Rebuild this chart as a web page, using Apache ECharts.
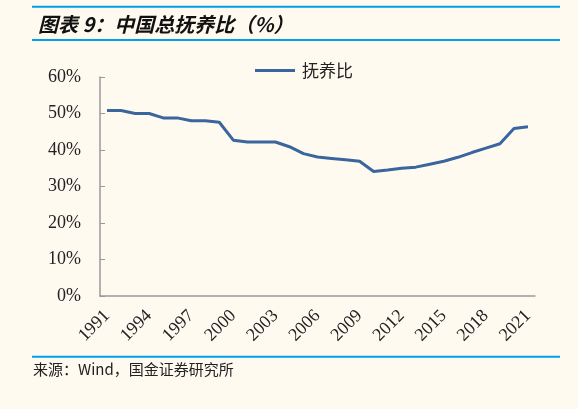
<!DOCTYPE html>
<html>
<head>
<meta charset="utf-8">
<script src="https://cdn.jsdelivr.net/npm/echarts@6/dist/echarts.min.js"></script>
<style>
  html, body { margin: 0; padding: 0; background: #FFFAF0; }
  #chart { width: 578px; height: 409px; }
</style>
</head>
<body>
<div id="chart"></div>
<script>
// 年份
var years = ['1991','1992','1993','1994','1995','1996','1997','1998','1999','2000',
  '2001','2002','2003','2004','2005','2006','2007','2008','2009','2010',
  '2011','2012','2013','2014','2015','2016','2017','2018','2019','2020','2021'];
// 总抚养比(%)
var ratio = [50.8, 50.8, 50.0, 50.0, 48.8, 48.8, 48.0, 48.0, 47.6, 42.7,
  42.2, 42.2, 42.2, 40.9, 39.0, 38.1, 37.7, 37.3, 36.9, 34.1,
  34.5, 35.0, 35.3, 36.1, 36.9, 38.0, 39.3, 40.5, 41.7, 45.9, 46.4];
var yTicks = [0, 10, 20, 30, 40, 50, 60];

var chart = echarts.init(document.getElementById('chart'));
var blue = '#00A0E9';
var option = {
  backgroundColor: '#FFFAF0',
  animation: false,
  title: {
    text: '图表 9：中国总抚养比（%）',
    left: 33,
    top: 9,
    textStyle: {
      fontFamily: 'Noto Sans CJK SC',
      fontSize: 20,
      fontWeight: 'bold',
      fontStyle: 'italic',
      color: '#111'
    }
  },
  graphic: [
    { type: 'line', shape: { x1: 32, y1: 6.7, x2: 560, y2: 6.7 }, style: { stroke: blue, lineWidth: 2 } },
    { type: 'line', shape: { x1: 32, y1: 40, x2: 560, y2: 40 }, style: { stroke: blue, lineWidth: 2 } },
    { type: 'line', shape: { x1: 32, y1: 356.7, x2: 560, y2: 356.7 }, style: { stroke: blue, lineWidth: 2 } },
    {
      type: 'text', left: 33, top: 362,
      style: { text: '来源：Wind，国金证券研究所', fontFamily: 'Noto Sans CJK SC', fontSize: 15, fill: '#222' }
    }
  ],
  legend: {
    top: 57,
    left: 250,
    icon: 'rect',
    itemWidth: 40,
    itemHeight: 3,
    itemGap: 8,
    textStyle: { fontFamily: 'Noto Sans CJK SC', fontSize: 17, color: '#222', padding: [0, 0, 0, 2] },
    data: ['抚养比']
  },
  grid: { left: 100, right: 43, top: 77, bottom: 113 },
  xAxis: {
    type: 'category',
    boundaryGap: true,
    data: years,
    axisLine: { lineStyle: { color: '#9A9A9A', width: 1.5 } },
    axisTick: { inside: true, length: 5, interval: 2, lineStyle: { color: '#9A9A9A' } },
    axisLabel: {
      interval: 2,
      rotate: 45,
      margin: 17,
      fontFamily: 'Liberation Serif',
      fontSize: 18,
      color: '#222'
    }
  },
  yAxis: {
    type: 'value',
    min: yTicks[0],
    max: yTicks[yTicks.length - 1],
    interval: 10,
    axisLine: { show: true, lineStyle: { color: '#9A9A9A', width: 1.5 } },
    axisTick: { show: true, inside: true, length: 5, lineStyle: { color: '#9A9A9A' } },
    splitLine: { show: false },
    axisLabel: {
      margin: 19,
      fontFamily: 'Liberation Serif',
      fontSize: 18,
      color: '#222',
      formatter: '{value}%'
    }
  },
  series: [{
    name: '抚养比',
    type: 'line',
    data: ratio,
    symbol: 'none',
    lineStyle: { color: '#3A659E', width: 3 },
    itemStyle: { color: '#3A659E' }
  }]
};
chart.setOption(option);
</script>
</body>
</html>
